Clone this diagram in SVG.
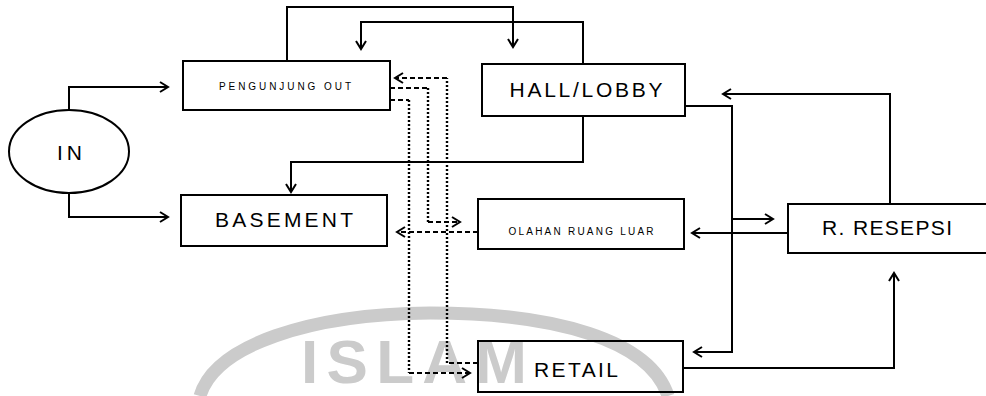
<svg xmlns="http://www.w3.org/2000/svg" width="986" height="396" viewBox="0 0 986 396">
<style>
.box{fill:#fff;stroke:#000;stroke-width:2}
.lbl{font-family:"Liberation Sans",Arial,sans-serif;fill:#000;text-anchor:middle}
.big{font-size:21px}
.small{font-size:10px}
.ln{fill:none;stroke:#000;stroke-width:2}
.dash{fill:none;stroke:#000;stroke-width:2;stroke-dasharray:5 3}
.dot{fill:none;stroke:#000;stroke-width:2.4;stroke-dasharray:2 2}
.wm{fill:#cbcbcb;font-family:"Liberation Sans",Arial,sans-serif;font-weight:bold;font-size:62px}
</style>
<defs>
<marker id="ah" markerUnits="userSpaceOnUse" markerWidth="14" markerHeight="14" refX="10" refY="6" orient="auto">
<path d="M2,1 L10,6 L2,11" fill="none" stroke="#000" stroke-width="2"/>
</marker>
</defs>
<rect width="986" height="396" fill="#fff"/>
<g id="watermark">
<path d="M200,396 C215,345 310,314 430,313 C555,313 650,340 668,396" fill="none" stroke="#cbcbcb" stroke-width="13"/>
<text class="wm" x="301" y="383" textLength="226" lengthAdjust="spacing">ISLAM</text>
</g>
<g id="connectors">
<path class="ln" d="M69,110 V87 H168" marker-end="url(#ah)"/>
<path class="ln" d="M69,193 V217 H168" marker-end="url(#ah)"/>
<path class="ln" d="M287,61 V7 H513 V47" marker-end="url(#ah)"/>
<path class="ln" d="M583,64 V22 H361 V49" marker-end="url(#ah)"/>
<path class="ln" d="M583,116 V162 H291 V192" marker-end="url(#ah)"/>
<path class="ln" d="M685,106 H732 V352 H694" marker-end="url(#ah)"/>
<path class="ln" d="M732,219 H773" marker-end="url(#ah)"/>
<path class="ln" d="M788,233 H692" marker-end="url(#ah)"/>
<path class="ln" d="M890,205 V94 H723" marker-end="url(#ah)"/>
<path class="ln" d="M683,368 H894 V273" marker-end="url(#ah)"/>
<path class="dash" d="M478,363 H447"/>
<path class="dot" d="M447,363 V78"/>
<path class="dash" d="M447,78 H395" marker-end="url(#ah)"/>
<path class="dash" d="M390,88 H428"/>
<path class="dot" d="M428,88 V222"/>
<path class="dash" d="M428,222 H460" marker-end="url(#ah)"/>
<path class="dash" d="M390,100 H409"/>
<path class="dot" d="M409,100 V373"/>
<path class="dash" d="M409,373 H470" marker-end="url(#ah)"/>
<path class="dash" d="M478,232 H397" marker-end="url(#ah)"/>
</g>
<g id="in">
<ellipse cx="69" cy="151.5" rx="60" ry="41.5" fill="#fff" stroke="#000" stroke-width="2"/>
<text class="lbl big" x="69.5" y="160" textLength="25" lengthAdjust="spacing">IN</text>
</g>
<g id="pengunjung-out">
<rect class="box" x="183" y="61" width="207" height="49"/>
<text class="lbl small" x="285" y="89.5" textLength="132" lengthAdjust="spacing">PENGUNJUNG OUT</text>
</g>
<g id="hall-lobby">
<rect class="box" x="482" y="64" width="203" height="52"/>
<text class="lbl big" x="586" y="97" textLength="153" lengthAdjust="spacing">HALL/LOBBY</text>
</g>
<g id="basement">
<rect class="box" x="181" y="195" width="206" height="51"/>
<text class="lbl big" x="284" y="227" textLength="138" lengthAdjust="spacing">BASEMENT</text>
</g>
<g id="olahan-ruang-luar">
<rect class="box" x="478" y="199" width="206" height="50"/>
<text class="lbl small" x="581" y="235" textLength="145" lengthAdjust="spacing">OLAHAN RUANG LUAR</text>
</g>
<g id="r-resepsi">
<rect class="box" x="788" y="204" width="205" height="49"/>
<text class="lbl big" x="887" y="235" textLength="130" lengthAdjust="spacing">R. RESEPSI</text>
</g>
<g id="retail">
<rect x="478" y="341" width="205" height="51" fill="none" stroke="#000" stroke-width="2"/>
<text class="lbl big" x="576" y="377" textLength="84" lengthAdjust="spacing">RETAIL</text>
</g>
</svg>
